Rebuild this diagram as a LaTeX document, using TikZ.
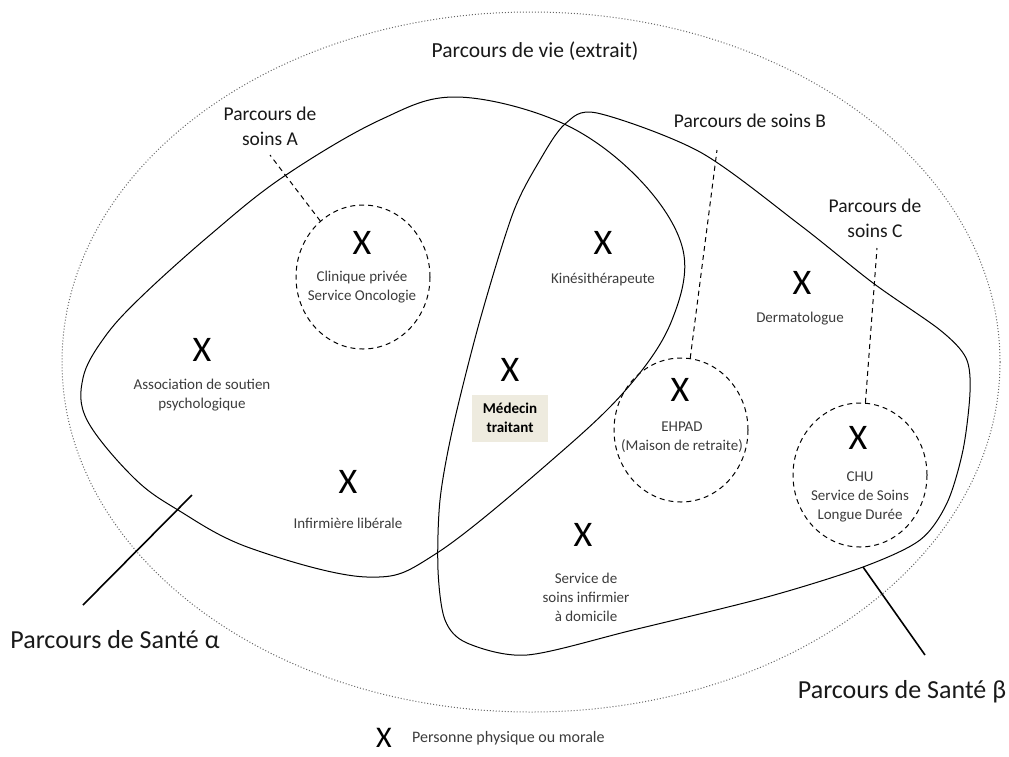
\documentclass[tikz,border=0pt]{standalone}
\usepackage{fontspec}
\setmainfont{Carlito}
\usetikzlibrary{shapes.geometric,positioning,calc}
\definecolor{txtgray}{HTML}{3C3C3C}
\definecolor{boxbeige}{HTML}{EEEBDF}
\definecolor{dotgray}{HTML}{666666}

\begin{document}
\begin{tikzpicture}[
    x=1pt, y=-1pt,
    every node/.style={inner sep=0pt, align=center, text=txtgray, font=\fontsize{15}{19}\selectfont},
    pers/.style={text=black, font=\fontsize{36}{36}\selectfont},
    big/.style={text=black!90, font=\fontsize{19.5}{25}\selectfont},
    sante/.style={text=black!90, font=\fontsize{26}{30}\selectfont},
    soin/.style={draw, ellipse, dash pattern=on 5pt off 4pt, line width=1pt, minimum width=134pt, minimum height=144pt},
    leader/.style={draw, dash pattern=on 5pt off 4pt, line width=1pt},
    parcours/.style={draw, line width=1pt},
    pointer/.style={draw, line width=1.6pt},
]
  \useasboundingbox (0,0) rectangle (1009,756);

  \draw [dotgray, line width=1pt, dash pattern=on 1pt off 2pt] (531,362) ellipse [x radius=469, y radius=350];

  \draw [parcours] plot [smooth cycle, tension=0.6] coordinates {
      (457,97) (562,123) (640,180) (683,250) (672,320) (630,385) (560,453)
      (437,553) (367,577) (250,548) (178,510) (133,477) (87,420) (83,378)
      (104,338) (140,298) (210,235) (283,177) (380,120)};
  \draw [parcours] plot [smooth cycle, tension=0.5] coordinates {
      (597,113) (700,152) (800,225) (873,283) (940,330) (966,358) (970,392)
      (963,450) (947,503) (920,540) (863,567) (767,597) (633,630) (527,655)
      (467,643) (445,620) (438,570) (440,500) (453,427) (480,320) (513,213)
      (540,160) (565,124)};

  \node [big, font=\fontsize{21.5}{25}\selectfont]
                (vie)  at (535,51)  {Parcours de vie (extrait)};
  \node [big]   (labA) at (270,126) {Parcours de\\soins A};
  \node [big]   (labB) at (750,121) {Parcours de soins B};
  \node [big]   (labC) at (875,218) {Parcours de\\soins C};

  \coordinate   (fA)   at (270,155);
  \coordinate   (fB)   at (717,150);
  \coordinate   (fC)   at (877,248);

  \node [soin]  (cli)  at (363,277) {}  edge [leader] (fA);
  \node [soin]  (ehp)  at (681,430) {}  edge [leader] (fB);
  \node [soin]  (chu)  at (860,475) {}  edge [leader] (fC);

  \node [pers]  (x1)   at (362,243) {X};
  \node []      (t1)   at (362,287) {Clinique privée\\Service Oncologie};
  \node [pers]  (x2)   at (603,243) {X};
  \node []      (t2)   at (603,279) {Kinésithérapeute};
  \node [pers]  (x3)   at (802,283) {X};
  \node []      (t3)   at (800,319) {Dermatologue};
  \node [pers]  (x4)   at (202,350) {X};
  \node []      (t4)   at (202,395) {Association de soutien\\psychologique};
  \node [pers]  (x5)   at (510,370) {X};
  \node [fill=boxbeige, text=black, minimum width=76pt, minimum height=47pt,
         font=\fontsize{15}{19}\selectfont\bfseries]
                (t5)   at (510,418) {Médecin\\traitant};
  \node [pers]  (x6)   at (680,390) {X};
  \node []      (t6)   at (682,437) {EHPAD\\(Maison de retraite)};
  \node [pers]  (x7)   at (858,438) {X};
  \node []      (t7)   at (860,497) {CHU\\Service de Soins\\Longue Durée};
  \node [pers]  (x8)   at (348,482) {X};
  \node []      (t8)   at (348,523) {Infirmière libérale};
  \node [pers]  (x9)   at (583,535) {X};
  \node []      (t9)   at (586,597) {Service de\\soins infirmier\\à domicile};

  \node [sante] (sA)   at (115,640) {Parcours de Santé α};
  \node [sante] (sB)   at (902,692) {Parcours de Santé β};
  \coordinate   (pA1)  at (83,605);
  \coordinate   (pA2)  at (192,495);
  \coordinate   (pB1)  at (863,567);
  \coordinate   (pB2)  at (925,655);
  \draw [pointer] (pA1) -- (pA2);
  \draw [pointer] (pB1) -- (pB2);

  \node [pers, font=\fontsize{30}{30}\selectfont]
                (xl)   at (384,738) {X};
  \node [right=20pt of xl, font=\fontsize{16}{19}\selectfont] (leg) {Personne physique ou morale};
\end{tikzpicture}
\end{document}
